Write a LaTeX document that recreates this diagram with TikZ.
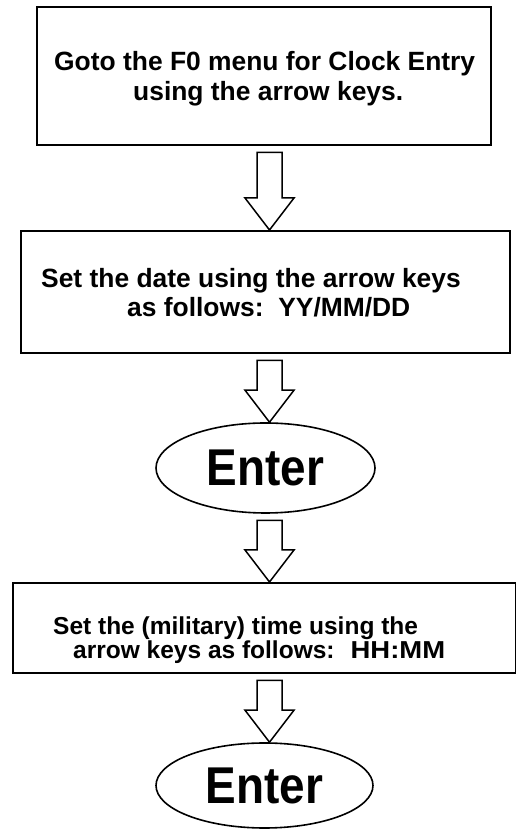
\documentclass[tikz,border=0pt]{standalone}
\usepackage{fontspec}
\usepackage{graphicx}
\setmainfont{Liberation Sans}
\usetikzlibrary{shapes.geometric,calc}
\tikzset{
  box/.style={draw, line width=2pt, rectangle, inner sep=0pt},
  oval/.style={draw, ellipse, line width=1.6pt, inner sep=0pt,
    font=\fontsize{45}{50}\selectfont\bfseries},
  txt/.style={anchor=base west, inner sep=0pt,
    font=\fontsize{26.4}{29}\selectfont\bfseries},
  txtsmall/.style={txt, font=\fontsize{24.5}{28}\selectfont\bfseries},
  blockarrow/.style={draw, line width=1.5pt, fill=white, line join=miter},
}
\newcommand\flowarrow[2]{%
  \draw[blockarrow] let \p1=(#1.south), \p2=(#2.north) in
    (257pt,\y1-6.5pt) -- (282pt,\y1-6.5pt) -- (282pt,\y2+32pt) --
    (294pt,\y2+32pt) -- (269.5pt,\y2) -- (245pt,\y2+32pt) --
    (257pt,\y2+32pt) -- cycle;}
\begin{document}
\begin{tikzpicture}[x=1pt,y=1pt]
  \useasboundingbox (0,0) rectangle (515,829);
  \fill[white] (0,0) rectangle (515,829);

  % boxes and ovals
  \node[box, minimum width=454pt, minimum height=138pt] (b1) at (264,753) {};
  \node[box, minimum width=489pt, minimum height=122pt] (b2) at (265.5,537) {};
  \node[oval, minimum width=219pt, minimum height=90pt] (e1) at (265.5,361)
    {\scalebox{1.02}[1.15]{Enter}};
  \node[box, minimum width=503pt, minimum height=90pt] (b3) at (264.5,201) {};
  \node[oval, minimum width=217pt, minimum height=85pt] (e2) at (264.5,43.5)
    {\scalebox{1.02}[1.15]{Enter}};

  % texts
  \node[txt] (t1a) at (54,758) {Goto the F0 menu for Clock Entry};
  \node[txt] (t1b) at (133,728) {using the arrow keys.};
  \node[txt] (t2a) at (41,541) {Set the date using the arrow keys};
  \node[txt] (t2b) at (127,512) {as follows:\ \ YY/MM/DD};
  \node[txtsmall] (t3a) at (53,194) {Set the (military) time using the};
  \node[txtsmall] (t3b) at (73,170) {arrow keys as follows:\hspace{16pt}\scalebox{1.12}[1]{HH:MM}};

  % block arrows
  \flowarrow{b1}{b2}
  \flowarrow{b2}{e1}
  \flowarrow{e1}{b3}
  \flowarrow{b3}{e2}
\end{tikzpicture}
\end{document}
